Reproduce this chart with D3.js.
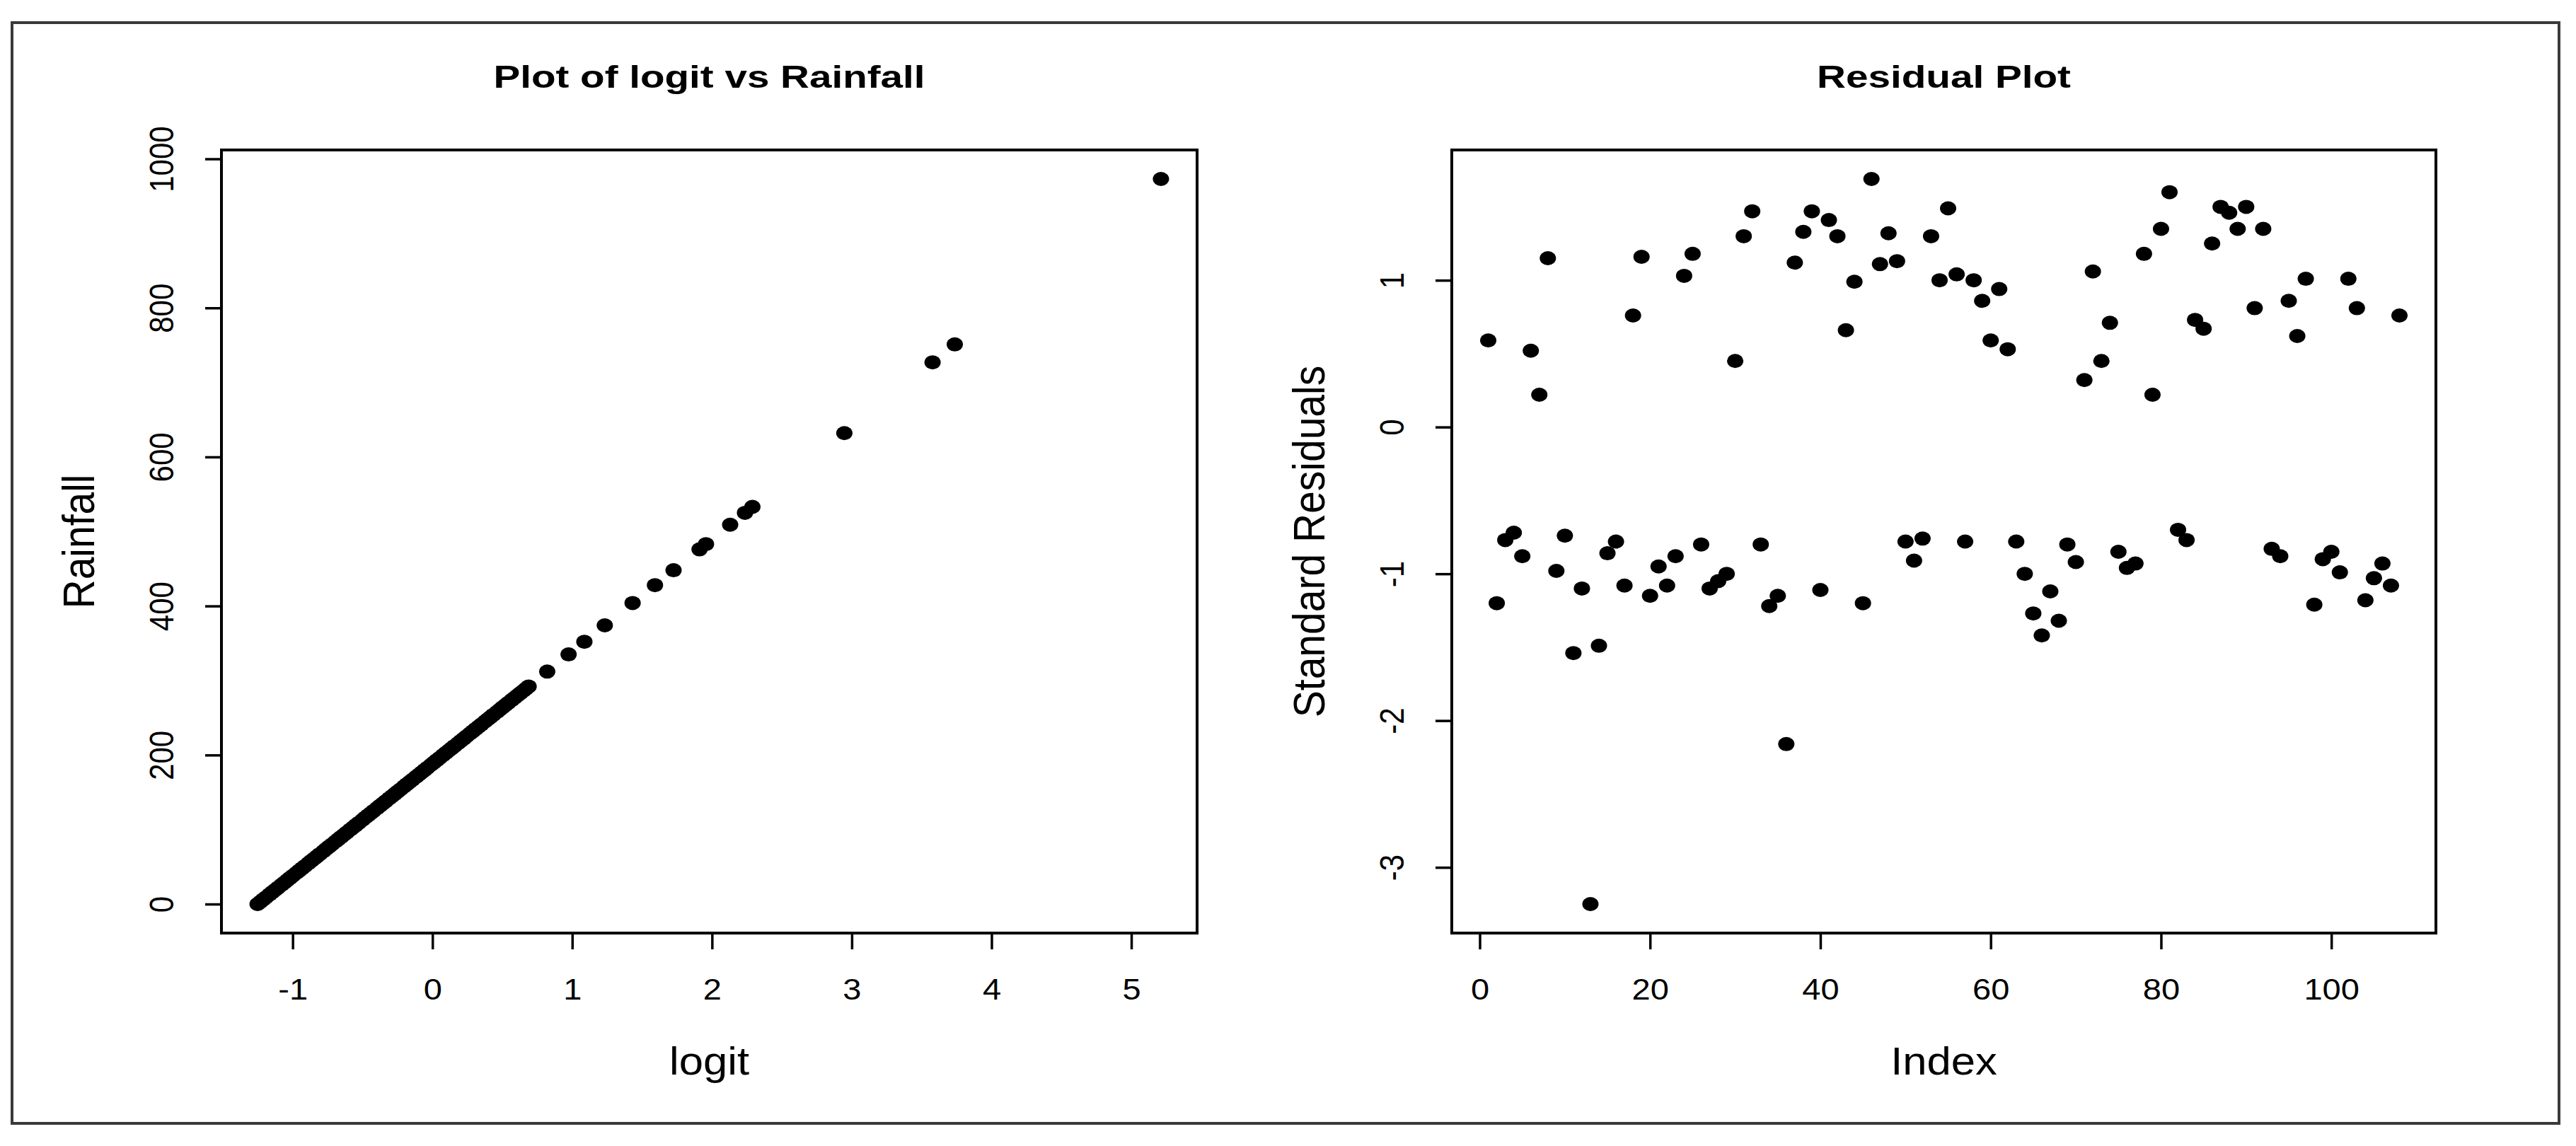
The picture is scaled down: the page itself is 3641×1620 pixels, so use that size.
<!DOCTYPE html>
<html>
<head>
<meta charset="utf-8">
<script src="https://cdn.jsdelivr.net/npm/d3@7"></script>
<style>
  html, body { margin: 0; padding: 0; background: #ffffff; }
  svg { display: block; }
  text { font-family: "Liberation Sans", Arial, sans-serif; fill: #000; }
</style>
</head>
<body>
<svg id="chart" width="3641" height="1620"></svg>
<script>
// ---------------- DATA ----------------
// Left panel: Rainfall (y) vs logit (x)
const rainfall = [
  0, 3, 6, 9, 13, 16, 19, 22, 26, 29,
  32, 35, 38, 42, 45, 48, 51, 55, 58, 61,
  64, 67, 71, 74, 77, 80, 84, 87, 90, 93,
  96, 100, 103, 106, 109, 113, 116, 119, 122, 125,
  129, 132, 135, 138, 142, 145, 148, 151, 154, 158,
  161, 164, 167, 171, 174, 177, 180, 183, 187, 190,
  193, 196, 200, 203, 206, 209, 212, 216, 219, 222,
  225, 229, 232, 235, 238, 241, 245, 248, 251, 254,
  258, 261, 264, 267, 270, 274, 277, 280, 283, 286,
  289, 292, 312, 335, 352, 374, 404, 428, 448, 476,
  483, 509, 525, 533, 632, 727, 751, 973
];
const logit = [
  -1.251, -1.231, -1.211, -1.191, -1.165, -1.145, -1.125, -1.105, -1.078, -1.058,
  -1.038, -1.019, -0.999, -0.972, -0.952, -0.932, -0.912, -0.886, -0.866, -0.846,
  -0.826, -0.806, -0.779, -0.760, -0.740, -0.720, -0.693, -0.673, -0.653, -0.633,
  -0.613, -0.587, -0.567, -0.547, -0.527, -0.500, -0.481, -0.461, -0.441, -0.421,
  -0.394, -0.374, -0.354, -0.334, -0.308, -0.288, -0.268, -0.248, -0.228, -0.202,
  -0.182, -0.162, -0.142, -0.115, -0.095, -0.075, -0.055, -0.036, -0.009, 0.011,
  0.031, 0.051, 0.077, 0.097, 0.117, 0.137, 0.157, 0.184, 0.204, 0.224,
  0.243, 0.270, 0.290, 0.310, 0.330, 0.350, 0.376, 0.396, 0.416, 0.436,
  0.463, 0.483, 0.502, 0.522, 0.542, 0.569, 0.589, 0.609, 0.629, 0.649,
  0.669, 0.688, 0.821, 0.974, 1.087, 1.233, 1.432, 1.592, 1.725, 1.911,
  1.957, 2.130, 2.236, 2.289, 2.947, 3.578, 3.737, 5.212
];
// Right panel: standard residuals by index (1..108)
const residuals = [
  0.59, -1.20, -0.77, -0.72, -0.88, 0.52, 0.22, 1.15, -0.98, -0.74,
  -1.54, -1.10, -3.25, -1.49, -0.86, -0.78, -1.08, 0.76, 1.16, -1.15,
  -0.95, -1.08, -0.88, 1.03, 1.18, -0.80, -1.10, -1.05, -1.00, 0.45,
  1.30, 1.47, -0.80, -1.22, -1.15, -2.16, 1.12, 1.33, 1.47, -1.11,
  1.41, 1.30, 0.66, 0.99, -1.20, 1.69, 1.11, 1.32, 1.13, -0.78,
  -0.91, -0.76, 1.30, 1.00, 1.49, 1.04, -0.78, 1.00, 0.86, 0.59,
  0.94, 0.53, -0.78, -1.00, -1.27, -1.42, -1.12, -1.32, -0.80, -0.92,
  0.32, 1.06, 0.45, 0.71, -0.85, -0.96, -0.93, 1.18, 0.22, 1.35,
  1.60, -0.70, -0.77, 0.73, 0.67, 1.25, 1.50, 1.46, 1.35, 1.50,
  0.81, 1.35, -0.83, -0.88, 0.86, 0.62, 1.01, -1.21, -0.90, -0.85,
  -0.99, 1.01, 0.81, -1.18, -1.03, -0.93, -1.08, 0.76
];
const leftXTicks = [-1, 0, 1, 2, 3, 4, 5];
const leftYTicks = [0, 200, 400, 600, 800, 1000];
const rightXTicks = [0, 20, 40, 60, 80, 100];
const rightYTicks = [-3, -2, -1, 0, 1];
const titles = ["Plot of logit vs Rainfall", "Residual Plot"];
const xLabels = ["logit", "Index"];
const yLabels = ["Rainfall", "Standard Residuals"];

// ---------------- LAYOUT ----------------
const svg = d3.select("#chart");
svg.append("rect").attr("width", 3641).attr("height", 1620).attr("fill", "#fff");

// outer frame
svg.append("rect")
  .attr("x", 17).attr("y", 32).attr("width", 3600).attr("height", 1556)
  .attr("fill", "none").attr("stroke", "#3a3a3a").attr("stroke-width", 4);

// R-style padded domain (4% each side)
function rDomain(ext) {
  const r = ext[1] - ext[0];
  return [ext[0] - 0.04 * r, ext[1] + 0.04 * r];
}

const panels = [
  { left: 313, right: 1692, top: 212, bottom: 1319,
    xs: logit, ys: rainfall, xTicks: leftXTicks, yTicks: leftYTicks,
    title: titles[0], titleLen: 610, xLab: xLabels[0], yLab: yLabels[0],
    yLabX: 133 },
  { left: 2052, right: 3443, top: 212, bottom: 1319,
    xs: residuals.map((d, i) => i + 1), ys: residuals, xTicks: rightXTicks, yTicks: rightYTicks,
    title: titles[1], titleLen: 359, xLab: xLabels[1], yLab: yLabels[1],
    yLabX: 1872 }
];

panels.forEach(p => {
  const x = d3.scaleLinear().domain(rDomain(d3.extent(p.xs))).range([p.left, p.right]);
  const y = d3.scaleLinear().domain(rDomain(d3.extent(p.ys))).range([p.bottom, p.top]);
  const g = svg.append("g");

  // bottom axis
  const xa = g.append("g").attr("transform", `translate(0,${p.bottom})`)
    .call(d3.axisBottom(x).tickValues(p.xTicks).tickSize(23).tickFormat(d => String(d)));
  xa.select(".domain").remove();
  xa.selectAll(".tick line").attr("stroke", "#000").attr("stroke-width", 3.5);
  xa.selectAll(".tick text")
    .attr("y", 94).attr("dy", 0)
    .attr("font-size", 42)
    .attr("font-family", "Liberation Sans, Arial, sans-serif")
    .attr("fill", "#000")
    .attr("transform", "scale(1.12,1)");

  // left axis
  const ya = g.append("g").attr("transform", `translate(${p.left},0)`)
    .call(d3.axisLeft(y).tickValues(p.yTicks).tickSize(23).tickFormat(d => String(d)));
  ya.select(".domain").remove();
  ya.selectAll(".tick line").attr("stroke", "#000").attr("stroke-width", 3.5);
  ya.selectAll(".tick text")
    .attr("x", 0).attr("y", 0).attr("dy", 0)
    .attr("text-anchor", "middle")
    .attr("font-size", 42)
    .attr("font-family", "Liberation Sans, Arial, sans-serif")
    .attr("fill", "#000")
    .attr("transform", "translate(-68,0) scale(1.15,1) rotate(-90)");

  // points
  g.append("g").selectAll("ellipse")
    .data(p.xs.map((d, i) => [d, p.ys[i]]))
    .join("ellipse")
    .attr("cx", d => x(d[0]))
    .attr("cy", d => y(d[1]))
    .attr("rx", 11.5).attr("ry", 10)
    .attr("fill", "#000");

  // box
  g.append("rect")
    .attr("x", p.left).attr("y", p.top)
    .attr("width", p.right - p.left).attr("height", p.bottom - p.top)
    .attr("fill", "none").attr("stroke", "#000").attr("stroke-width", 4);

  const cx = (p.left + p.right) / 2;
  const cy = (p.top + p.bottom) / 2;

  // title
  g.append("text")
    .attr("x", cx).attr("y", 124)
    .attr("text-anchor", "middle")
    .attr("font-size", 44).attr("font-weight", "bold")
    .attr("textLength", p.titleLen).attr("lengthAdjust", "spacingAndGlyphs")
    .text(p.title);

  // x label
  g.append("text")
    .attr("text-anchor", "middle")
    .attr("font-size", 56)
    .attr("transform", `translate(${cx},1519) scale(1.1,1)`)
    .text(p.xLab);

  // y label
  g.append("text")
    .attr("text-anchor", "middle")
    .attr("font-size", 57)
    .attr("transform", `translate(${p.yLabX},${cy}) scale(1.1,1) rotate(-90)`)
    .text(p.yLab);
});
</script>
</body>
</html>
